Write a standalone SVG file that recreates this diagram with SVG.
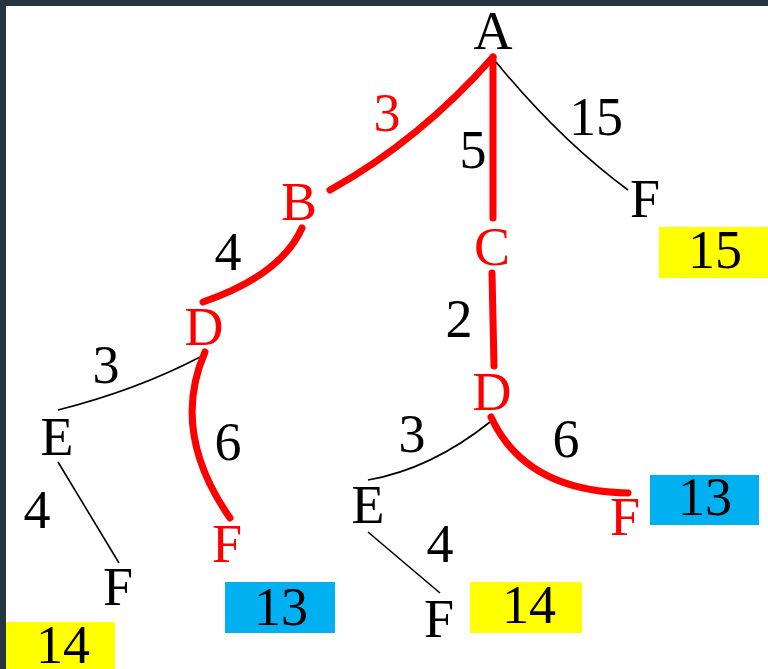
<svg xmlns="http://www.w3.org/2000/svg" width="768" height="669" viewBox="0 0 768 669">
<style>
text{font-family:"Liberation Serif","Times New Roman",serif;font-size:54px;text-anchor:middle}
.k{fill:#000}
.r{fill:#ff0000}
.thin{fill:none;stroke:#000;stroke-width:1.6}
.thick{fill:none;stroke:#ff0000;stroke-width:7;stroke-linecap:round}
.y{fill:#ffff00}
.b{fill:#00b0f0}
</style>
<rect x="0" y="0" width="768" height="669" fill="#ffffff"/>
<rect x="0" y="0" width="768" height="6" fill="#263640"/>
<rect x="0" y="0" width="6" height="669" fill="#263640"/>
<g id="connectors">
<path class="thick" d="M493,57 Q420,140 330,190"/>
<path class="thick" d="M493,57 L493,218"/>
<path class="thin" d="M496,62 Q560,140 628,190"/>
<path class="thick" d="M302,228 Q281,275 203,302"/>
<path class="thick" d="M492,273 L494,366"/>
<path class="thin" d="M200,357 Q137,390 58,410"/>
<path class="thick" d="M205,352 Q170,432 230,518"/>
<path class="thin" d="M58,462 L119,563"/>
<path class="thin" d="M490,422 Q431,469 368,480"/>
<path class="thick" d="M491,417 Q525,491 628,493"/>
<path class="thin" d="M368,532 L440,593"/>
</g>
<g id="labels">
<text class="r" x="387" y="131">3</text>
<text class="k" x="473" y="168">5</text>
<text class="k" x="596" y="135">15</text>
<text class="k" x="228" y="270">4</text>
<text class="k" x="459" y="337">2</text>
<text class="k" x="106" y="383">3</text>
<text class="k" x="228" y="460">6</text>
<text class="k" x="37" y="528">4</text>
<text class="k" x="412" y="452">3</text>
<text class="k" x="566" y="457">6</text>
<text class="k" x="440" y="562">4</text>
</g>
<g id="nA"><text class="k" x="493" y="49">A</text></g>
<g id="nB"><text class="r" x="299" y="220">B</text></g>
<g id="nC"><text class="r" x="492" y="265">C</text></g>
<g id="nF1"><text class="k" x="645" y="217">F</text></g>
<g id="nD1"><text class="r" x="204" y="345">D</text></g>
<g id="nD2"><text class="r" x="492" y="410">D</text></g>
<g id="nE1"><text class="k" x="57" y="455">E</text></g>
<g id="nF2"><text class="r" x="227" y="562">F</text></g>
<g id="nF3"><text class="k" x="118" y="605">F</text></g>
<g id="nE2"><text class="k" x="368" y="523">E</text></g>
<g id="nF4"><text class="r" x="625" y="535">F</text></g>
<g id="nF5"><text class="k" x="439" y="637">F</text></g>
<g id="cost15"><rect class="y" x="659" y="227" width="109" height="51"/><text class="k" x="715" y="268">15</text></g>
<g id="cost13a"><rect class="b" x="650" y="475" width="109" height="50"/><text class="k" x="705" y="515">13</text></g>
<g id="cost14a"><rect class="y" x="470" y="582" width="112" height="51"/><text class="k" x="529" y="623">14</text></g>
<g id="cost13b"><rect class="b" x="225" y="582" width="110" height="51"/><text class="k" x="281" y="625">13</text></g>
<g id="cost14b"><rect class="y" x="6" y="622" width="109" height="47"/><text class="k" x="63" y="663">14</text></g>
</svg>
